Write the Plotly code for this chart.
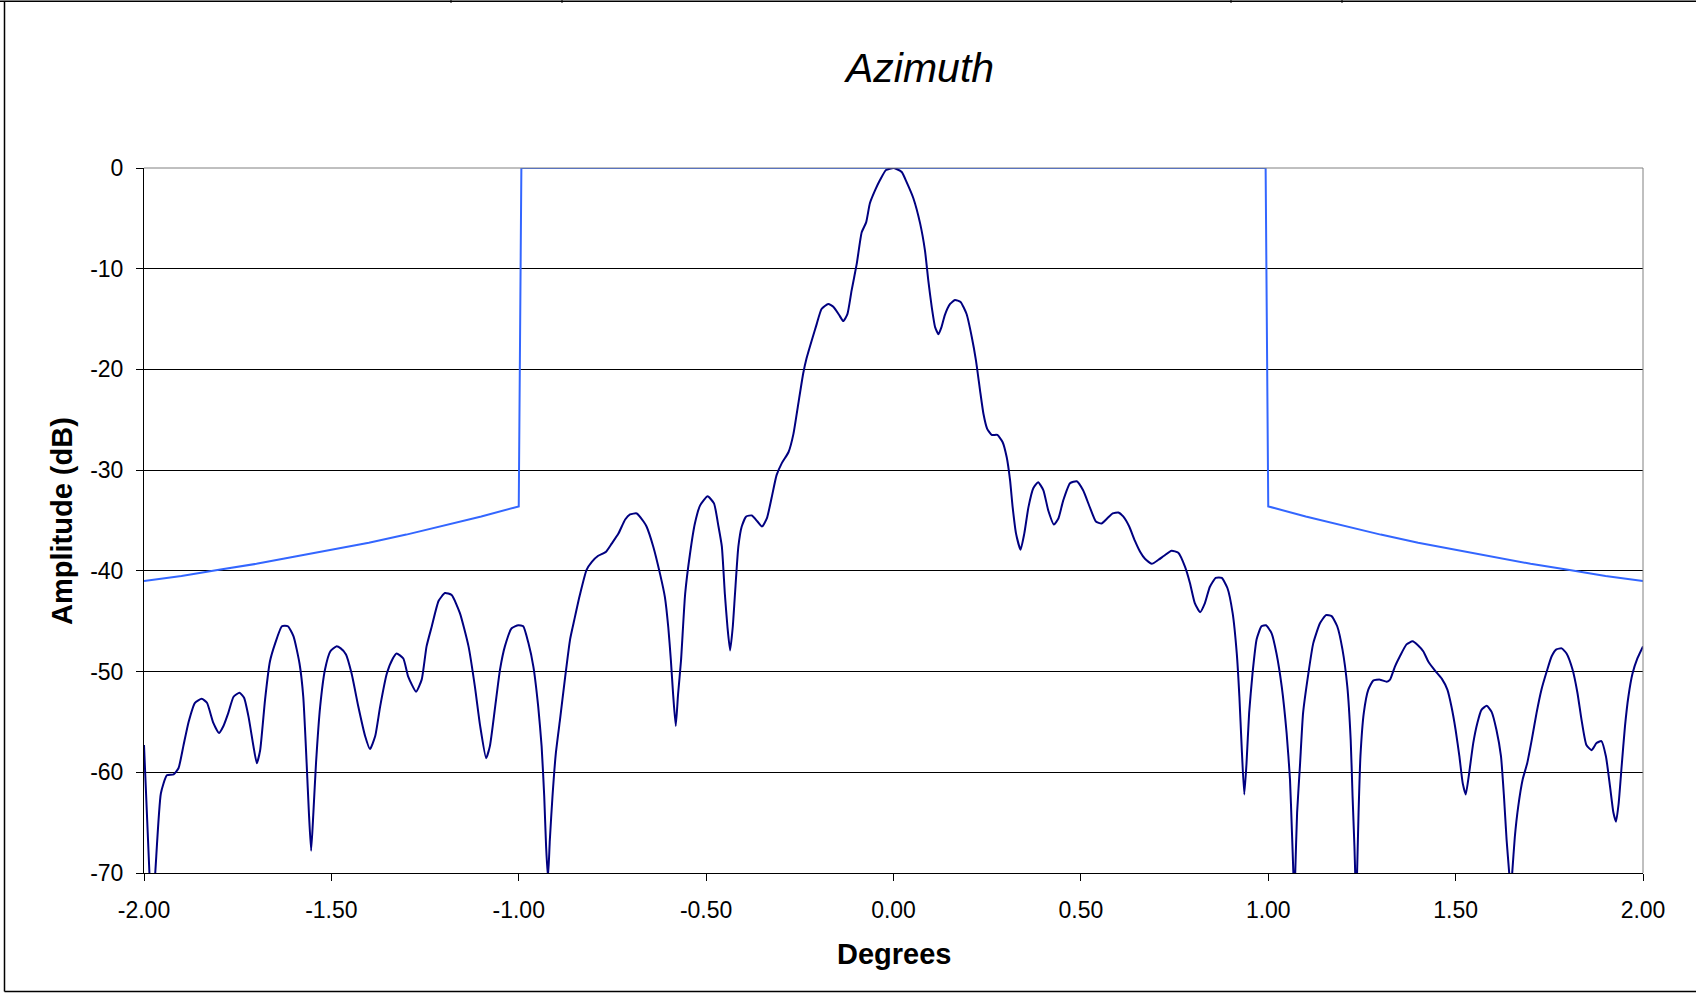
import plotly.graph_objects as go

# ---- measured antenna pattern, azimuth cut ----
deg = [
    -2.000, -1.9855, -1.978, -1.970, -1.955, -1.939, -1.921, -1.908, -1.895, -1.881,
    -1.864, -1.846, -1.832, -1.815, -1.800, -1.788, -1.775, -1.761, -1.745, -1.733,
    -1.721, -1.708, -1.699, -1.690, -1.677, -1.664, -1.650, -1.632, -1.616, -1.601,
    -1.585, -1.575, -1.566, -1.560, -1.554, -1.548, -1.541, -1.530, -1.517, -1.503,
    -1.487, -1.475, -1.461, -1.446, -1.428, -1.410, -1.397, -1.383, -1.370, -1.352,
    -1.336, -1.326, -1.308, -1.295, -1.274, -1.259, -1.246, -1.232, -1.214, -1.197,
    -1.179, -1.157, -1.134, -1.117, -1.103, -1.087, -1.077, -1.063, -1.050, -1.037,
    -1.019, -1.001, -0.988, -0.974, -0.961, -0.948, -0.939, -0.932, -0.927, -0.922,
    -0.917, -0.910, -0.901, -0.890, -0.877, -0.863, -0.852, -0.837, -0.819, -0.805,
    -0.788, -0.767, -0.752, -0.734, -0.716, -0.703, -0.685, -0.667, -0.659, -0.641,
    -0.623, -0.610, -0.601, -0.594, -0.588, -0.581, -0.575, -0.567, -0.556, -0.543,
    -0.530, -0.516, -0.496, -0.479, -0.467, -0.458, -0.450, -0.443, -0.436, -0.429,
    -0.423, -0.414, -0.405, -0.393, -0.378, -0.363, -0.351, -0.338, -0.325, -0.312,
    -0.298, -0.280, -0.267, -0.254, -0.241, -0.232, -0.218, -0.205, -0.192, -0.174,
    -0.160, -0.145, -0.134, -0.123, -0.112, -0.098, -0.085, -0.073, -0.063, -0.049,
    -0.036, -0.020, 0.000, 0.008, 0.022, 0.035, 0.053, 0.071, 0.084, 0.093,
    0.102, 0.111, 0.120, 0.128, 0.137, 0.151, 0.164, 0.179, 0.195, 0.209,
    0.220, 0.231, 0.240, 0.250, 0.262, 0.277, 0.291, 0.302, 0.311, 0.318,
    0.327, 0.339, 0.349, 0.360, 0.373, 0.386, 0.400, 0.413, 0.428, 0.440,
    0.453, 0.471, 0.489, 0.506, 0.524, 0.540, 0.555, 0.570, 0.585, 0.600,
    0.613, 0.629, 0.644, 0.658, 0.671, 0.689, 0.707, 0.722, 0.742, 0.760,
    0.778, 0.791, 0.804, 0.818, 0.831, 0.844, 0.860, 0.876, 0.891, 0.905,
    0.916, 0.923, 0.929, 0.936, 0.942, 0.949, 0.958, 0.969, 0.982, 0.994,
    1.009, 1.022, 1.036, 1.049, 1.058, 1.063, 1.067, 1.069, 1.072, 1.077,
    1.085, 1.093, 1.107, 1.120, 1.138, 1.154, 1.169, 1.184, 1.198, 1.211,
    1.220, 1.225, 1.230, 1.232, 1.234, 1.237, 1.241, 1.246, 1.255, 1.267,
    1.280, 1.298, 1.316, 1.325, 1.338, 1.351, 1.369, 1.385, 1.400, 1.414,
    1.427, 1.445, 1.463, 1.478, 1.489, 1.500, 1.510, 1.519, 1.527, 1.536,
    1.547, 1.558, 1.569, 1.583, 1.596, 1.609, 1.621, 1.629, 1.636, 1.643,
    1.647, 1.651, 1.658, 1.667, 1.679, 1.691, 1.703, 1.716, 1.729, 1.743,
    1.756, 1.769, 1.783, 1.796, 1.812, 1.825, 1.836, 1.849, 1.863, 1.876,
    1.889, 1.901, 1.912, 1.921, 1.928, 1.935, 1.943, 1.952, 1.961, 1.972,
    1.985, 2.000,
]
amp_db = [
    -57.3, -70.0, -74.0, -70.0, -62.1, -60.3, -60.2, -59.6, -57.4, -55.0,
    -53.1, -52.7, -53.1, -55.1, -56.1, -55.4, -54.1, -52.5, -52.1, -52.6,
    -54.5, -57.4, -59.1, -57.8, -52.8, -49.0, -47.2, -45.5, -45.5, -46.5,
    -49.2, -52.5, -59.1, -64.0, -67.8, -64.0, -59.1, -53.5, -49.8, -48.0,
    -47.5, -47.7, -48.3, -50.2, -53.5, -56.4, -57.7, -56.4, -53.5, -50.2,
    -48.7, -48.2, -48.7, -50.5, -52.0, -50.8, -47.5, -45.5, -43.0, -42.2,
    -42.4, -44.2, -47.5, -51.5, -55.4, -58.6, -57.4, -53.5, -49.8, -47.5,
    -45.7, -45.4, -45.5, -47.2, -49.5, -53.5, -57.4, -62.4, -67.4, -70.5,
    -66.7, -62.4, -58.1, -54.8, -50.8, -46.8, -44.9, -42.4, -39.9, -39.1,
    -38.5, -38.1, -37.3, -36.3, -34.9, -34.4, -34.3, -35.1, -35.6, -37.6,
    -40.3, -42.6, -45.6, -48.9, -52.3, -55.4, -52.3, -48.9, -42.3, -38.3,
    -35.3, -33.5, -32.6, -33.3, -35.6, -37.6, -42.3, -45.6, -47.9, -45.6,
    -42.3, -37.6, -35.6, -34.6, -34.5, -35.1, -35.6, -34.8, -32.7, -30.5,
    -29.3, -28.2, -26.4, -23.4, -20.4, -18.9, -17.1, -15.5, -14.0, -13.5,
    -13.8, -14.6, -15.2, -14.5, -12.2, -9.5, -6.4, -5.4, -3.5, -2.2,
    -1.2, -0.2, 0.0, -0.1, -0.4, -1.4, -3.0, -5.5, -8.2, -11.2,
    -13.8, -15.8, -16.5, -15.8, -14.6, -13.5, -13.1, -13.3, -14.5, -16.8,
    -19.1, -22.1, -24.4, -25.9, -26.5, -26.5, -27.2, -28.7, -31.0, -33.7,
    -36.3, -37.9, -36.3, -33.7, -31.8, -31.2, -32.0, -34.0, -35.4, -34.8,
    -33.0, -31.3, -31.1, -32.0, -33.7, -35.1, -35.3, -34.8, -34.3, -34.2,
    -34.6, -35.6, -37.0, -38.1, -38.8, -39.3, -38.9, -38.5, -38.0, -38.2,
    -39.6, -41.2, -43.2, -44.1, -43.2, -41.6, -40.7, -40.7, -41.7, -44.2,
    -48.2, -52.5, -57.4, -62.2, -59.1, -54.1, -50.2, -46.8, -45.5, -45.4,
    -46.2, -48.2, -51.5, -56.1, -60.7, -65.7, -70.0, -74.0, -70.0, -64.0,
    -59.1, -54.1, -50.2, -47.2, -45.2, -44.4, -44.5, -45.5, -47.8, -51.5,
    -56.8, -62.4, -67.4, -70.0, -73.0, -70.0, -64.0, -58.4, -54.1, -51.8,
    -50.9, -50.8, -51.0, -50.8, -49.5, -48.5, -47.3, -47.0, -47.4, -48.0,
    -49.0, -49.9, -50.7, -51.8, -53.5, -55.8, -58.4, -61.1, -62.2, -60.1,
    -57.1, -55.1, -53.8, -53.4, -54.0, -55.8, -58.4, -62.4, -66.7, -70.0,
    -72.0, -70.0, -66.4, -63.4, -60.7, -59.1, -56.8, -54.1, -51.8, -50.0,
    -48.5, -47.8, -47.7, -48.2, -49.8, -52.1, -54.8, -57.3, -57.8, -57.1,
    -56.9, -58.4, -61.4, -64.0, -64.9, -63.1, -59.4, -55.4, -52.5, -50.2,
    -48.7, -47.5,
]

# ---- sidelobe mask ----
mask_deg = [
    -2.0, -1.9, -1.8, -1.7, -1.6, -1.5, -1.4, -1.3, -1.2, -1.1, -1.0, -0.993,
    0.993, 1.0, 1.1, 1.2, 1.3, 1.4, 1.5, 1.6, 1.7, 1.8, 1.9, 2.0,
]
mask_db = [
    -41.0, -40.5, -39.9, -39.3, -38.6, -37.9, -37.2, -36.4, -35.5, -34.6, -33.6, 0.0,
    0.0, -33.6, -34.6, -35.5, -36.4, -37.2, -37.9, -38.6, -39.3, -39.9, -40.5, -41.0,
]

# ---- axis ticks ----
x_ticks = [-2.0, -1.5, -1.0, -0.5, 0.0, 0.5, 1.0, 1.5, 2.0]
x_tick_text = ["-2.00", "-1.50", "-1.00", "-0.50", "0.00", "0.50", "1.00", "1.50", "2.00"]
y_ticks = [0, -10, -20, -30, -40, -50, -60, -70]
y_tick_text = ["0", "-10", "-20", "-30", "-40", "-50", "-60", "-70"]

W, H = 1696, 993
L, R, T, B = 144, 53, 168, 120
PW, PH = W - L - R, H - T - B


def fx(px):
    return (px - L) / PW


def fy(py):
    return (H - B - py) / PH


FONT = "Arial, 'Liberation Sans', sans-serif"

fig = go.Figure()
fig.add_trace(go.Scatter(
    x=mask_deg, y=mask_db, mode="lines",
    line=dict(color="#3366FF", width=2), hoverinfo="skip", showlegend=False,
))
fig.add_trace(go.Scatter(
    x=deg, y=amp_db, mode="lines",
    line=dict(color="#000080", width=2, shape="spline", smoothing=0.5),
    showlegend=False,
))

shapes = [
    # keep the strip along the right page edge blank
    dict(type="rect", xref="paper", yref="paper", x0=fx(W - 6), x1=fx(W + 4), y0=fy(H + 4), y1=fy(-4),
         fillcolor="white", line=dict(width=0), layer="above"),
    # plot-area frame, right and top edges
    dict(type="line", xref="paper", yref="paper", x0=1, x1=1, y0=0, y1=1,
         line=dict(color="#808080", width=1)),
    dict(type="line", xref="paper", yref="paper", x0=0, x1=1, y0=1, y1=1,
         line=dict(color="#808080", width=1)),
    # chart-area frame (left, bottom, top; it runs on past the right edge)
    dict(type="line", xref="paper", yref="paper", x0=fx(4.5), x1=fx(4.5), y0=fy(1.5), y1=fy(991.5),
         line=dict(color="#000000", width=1.5)),
    dict(type="line", xref="paper", yref="paper", x0=fx(4.5), x1=fx(W), y0=fy(991.5), y1=fy(991.5),
         line=dict(color="#000000", width=1.5)),
    dict(type="line", xref="paper", yref="paper", x0=fx(0), x1=fx(W), y0=fy(1.2), y1=fy(1.2),
         line=dict(color="#000000", width=1.5)),
]
for mx in [451, 562, 1231, 1342]:
    shapes.append(dict(type="line", xref="paper", yref="paper", x0=fx(mx), x1=fx(mx),
                       y0=fy(0), y1=fy(3), line=dict(color="#000000", width=1)))

fig.update_layout(
    width=W, height=H,
    margin=dict(l=L, r=R, t=T, b=B, pad=0),
    paper_bgcolor="white", plot_bgcolor="white",
    font=dict(family=FONT, color="black"),
    shapes=shapes,
    annotations=[
        dict(text="<i>Azimuth</i>", xref="paper", yref="paper", x=fx(918), y=fy(68),
             xanchor="center", yanchor="middle", showarrow=False,
             font=dict(size=41, family=FONT, color="black")),
        dict(text="<b>Degrees</b>", xref="paper", yref="paper", x=fx(894), y=fy(954),
             xanchor="center", yanchor="middle", showarrow=False,
             font=dict(size=29, family=FONT, color="black")),
        dict(text="<b>Amplitude (dB)</b>", xref="paper", yref="paper", x=fx(62), y=fy(521),
             xanchor="center", yanchor="middle", showarrow=False, textangle=-90,
             font=dict(size=29, family=FONT, color="black")),
    ],
    xaxis=dict(
        range=[-2, 2], tickvals=x_ticks, ticktext=x_tick_text,
        showgrid=False, zeroline=False,
        showline=True, linecolor="black", linewidth=1,
        ticks="outside", ticklen=7, tickcolor="black", tickwidth=1,
        ticklabelstandoff=9,
        tickfont=dict(size=23, family=FONT, color="black"),
    ),
    yaxis=dict(
        range=[-70, 0], tickvals=y_ticks, ticktext=y_tick_text,
        showgrid=True, gridcolor="black", gridwidth=1, zeroline=False,
        showline=True, linecolor="black", linewidth=1,
        ticks="outside", ticklen=7, tickcolor="black", tickwidth=1,
        ticklabelstandoff=8,
        tickfont=dict(size=23, family=FONT, color="black"),
    ),
)

fig.write_html("out.html")
